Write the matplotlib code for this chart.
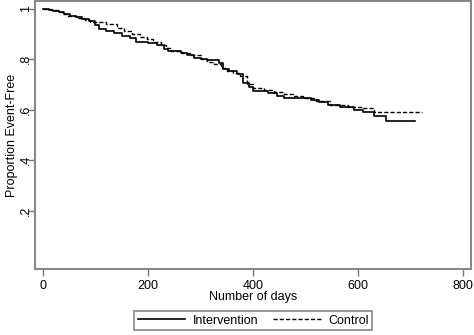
import numpy as np
import matplotlib
matplotlib.use("Agg")
import matplotlib.pyplot as plt

plt.rcParams['font.family'] = ['Liberation Sans', 'DejaVu Sans']

# Kaplan-Meier step values
int_days = [0, 12, 20, 30, 40, 52, 62, 75, 88, 100, 106, 120, 135, 150, 165, 178,
            200, 218, 230, 238, 262, 275, 288, 300, 312, 335, 342, 355, 370, 380,
            392, 400, 428, 445, 458, 510, 525, 542, 565, 592, 610, 630, 652, 708]
int_surv = [1.0, 0.995, 0.99, 0.985, 0.978, 0.972, 0.965, 0.958, 0.95, 0.935, 0.918,
            0.912, 0.905, 0.893, 0.885, 0.868, 0.862, 0.855, 0.842, 0.832, 0.826,
            0.815, 0.805, 0.800, 0.796, 0.785, 0.76, 0.752, 0.74, 0.705, 0.69, 0.675,
            0.665, 0.655, 0.648, 0.64, 0.632, 0.62, 0.612, 0.60, 0.59, 0.575, 0.556, 0.556]

ctl_days = [0, 15, 28, 40, 48, 65, 80, 90, 120, 140, 155, 170, 185, 198, 210, 224,
            235, 243, 265, 280, 300, 312, 325, 338, 350, 362, 375, 388, 400, 420,
            440, 458, 475, 495, 520, 547, 580, 610, 630, 722]
ctl_surv = [1.0, 0.993, 0.985, 0.978, 0.972, 0.962, 0.955, 0.948, 0.94, 0.925, 0.912,
            0.898, 0.888, 0.878, 0.868, 0.857, 0.845, 0.832, 0.826, 0.815, 0.80, 0.79,
            0.78, 0.765, 0.752, 0.745, 0.735, 0.70, 0.685, 0.678, 0.67, 0.663, 0.655,
            0.647, 0.635, 0.62, 0.612, 0.605, 0.59, 0.59]

xticks = [0, 200, 400, 600, 800]
yticks = [0.2, 0.4, 0.6, 0.8, 1.0]
ylabels = ['.2', '.4', '.6', '.8', '1']

fig = plt.figure(figsize=(4.74, 3.35), dpi=100)
ax = fig.add_axes([0.074, 0.197, 0.920, 0.800])

ax.step(int_days, int_surv, where='post', color='black', lw=1.2, label='Intervention')
ax.step(ctl_days, ctl_surv, where='post', color='black', lw=1.0,
        dashes=(3, 1.5), label='Control')

ax.set_xlim(-15, 815)
ax.set_ylim(-0.03, 1.03)
ax.set_xticks(xticks)
ax.set_yticks(yticks)
ax.set_yticklabels(ylabels, rotation=90, va='center')
ax.tick_params(direction='out', length=5, width=1, color='#777777',
               labelsize=9, pad=3)
ax.tick_params(axis='y', pad=-3)

for s in ax.spines.values():
    s.set_color('#888888')
    s.set_linewidth(1.5)

ax.set_xlabel('Number of days', fontsize=9, va='top')
ax.set_ylabel('Proportion Event-Free', fontsize=9)
ax.xaxis.set_label_coords(0.5, -0.082)
ax.yaxis.set_label_coords(-0.040, 0.5)

leg = fig.legend(loc='upper center', bbox_to_anchor=(0.534, 0.072), ncol=2,
                 fontsize=9, handlelength=3.8, frameon=True, fancybox=False,
                 edgecolor='#666666', borderpad=0.3, columnspacing=1.2,
                 handletextpad=0.6, borderaxespad=0)
leg.get_frame().set_linewidth(1.2)

fig.savefig('out.png', dpi=100)
